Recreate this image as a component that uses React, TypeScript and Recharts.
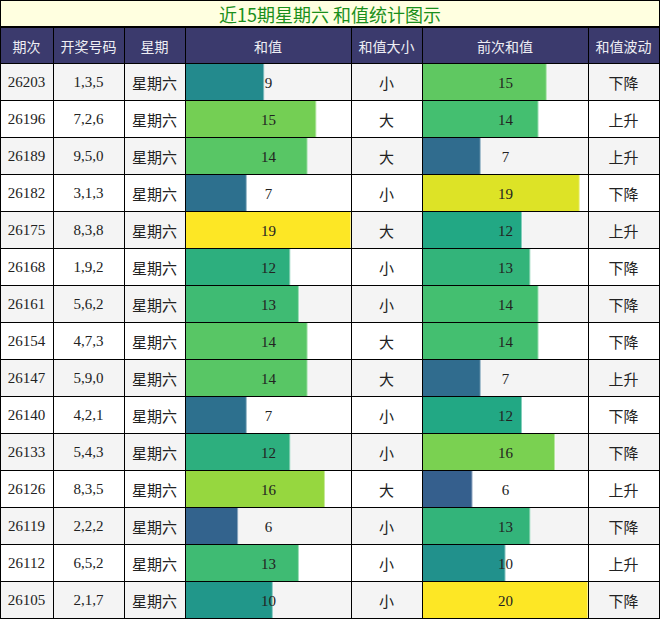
import { Bar, BarChart, Cell, LabelList, XAxis, YAxis } from "recharts";

const title = "近15期星期六 和值统计图示";
const headers = ["期次", "开奖号码", "星期", "和值", "和值大小", "前次和值", "和值波动"];

const periods = ["26203", "26196", "26189", "26182", "26175", "26168", "26161", "26154", "26147", "26140", "26133", "26126", "26119", "26112", "26105"];
const draws = ["1,3,5", "7,2,6", "9,5,0", "3,1,3", "8,3,8", "1,9,2", "5,6,2", "4,7,3", "5,9,0", "4,2,1", "5,4,3", "8,3,5", "2,2,2", "6,5,2", "2,1,7"];
const weekday = "星期六";
const sums = [9, 15, 14, 7, 19, 12, 13, 14, 14, 7, 12, 16, 6, 13, 10];
const sizes = ["小", "大", "大", "小", "大", "小", "小", "大", "大", "小", "小", "大", "小", "小", "小"];
const prevSums = [15, 14, 7, 19, 12, 13, 14, 14, 7, 12, 16, 6, 13, 10, 20];
const trends = ["下降", "上升", "上升", "下降", "上升", "下降", "下降", "下降", "上升", "下降", "下降", "上升", "下降", "上升", "下降"];

// layout
const W = 660;
const TITLE_H = 27;
const HEAD_TOP = 28;
const ROW_TOP = 63;
const ROW_H = 37;
const COLS = [0, 53, 124, 185, 351, 422, 588, 659];
const BAR_W = 165;

const FONT = "'Liberation Serif', 'Noto Sans CJK SC', serif";
const CJK = "'Noto Sans CJK SC', sans-serif";

const VIRIDIS = ["#440154", "#482475", "#414487", "#355f8d", "#2a788e", "#21918c", "#22a884", "#44bf70", "#7ad151", "#bddf26", "#fde725"];

function viridis(t: number) {
	const p = Math.max(0, Math.min(1, t)) * 10;
	const i = Math.min(9, Math.floor(p));
	const f = p - i;
	const a = VIRIDIS[i];
	const b = VIRIDIS[i + 1];
	const ch = (s: string, k: number) => parseInt(s.slice(1 + k * 2, 3 + k * 2), 16);
	const c = [0, 1, 2].map((k) => Math.round(ch(a, k) + (ch(b, k) - ch(a, k)) * f));
	return `rgb(${c[0]},${c[1]},${c[2]})`;
}

const sumData = periods.map((p, i) => ({ period: p, value: sums[i] }));
const prevData = periods.map((p, i) => ({ period: p, value: prevSums[i] }));

const CenterLabel = (props: any) => {
	const { y, height, value } = props;
	return (
		<text x={BAR_W / 2} y={y + height / 2 + 1} textAnchor="middle" dominantBaseline="central" fontSize={15} fontFamily={FONT} fill="#222">
			{value}
		</text>
	);
};

const EdgeBar = (props: any) => {
	const { x, y, width, height, fill } = props;
	return (
		<g>
			<rect x={x} y={y} width={width} height={height} fill={fill} />
			<rect x={x + width - 1} y={y} width={1.5} height={height} fill="#ffffff" opacity={0.45} />
		</g>
	);
};

function SumBars({ data, max, left }: { data: { period: string; value: number }[]; max: number; left: number }) {
	return (
		<div style={{ position: "absolute", left, top: ROW_TOP }}>
			<BarChart layout="vertical" width={BAR_W} height={ROW_H * data.length} data={data} margin={{ top: 0, right: 0, bottom: 0, left: 0 }} barCategoryGap={0}>
				<XAxis type="number" domain={[0, max]} hide />
				<YAxis type="category" dataKey="period" hide />
				<Bar dataKey="value" isAnimationActive={false} shape={EdgeBar}>
					{data.map((d) => (
						<Cell key={d.period} fill={viridis(d.value / max)} />
					))}
					<LabelList dataKey="value" content={CenterLabel} />
				</Bar>
			</BarChart>
		</div>
	);
}

function TextCell({ col, row, text, cjk }: { col: number; row: number; text: string; cjk?: boolean }) {
	return (
		<div
			style={{
				position: "absolute",
				left: COLS[col],
				width: COLS[col + 1] - COLS[col],
				top: ROW_TOP + row * ROW_H + 1,
				height: ROW_H,
				display: "flex",
				alignItems: "center",
				justifyContent: "center",
				fontFamily: cjk ? CJK : FONT,
				fontSize: 15,
				color: "#222",
			}}
		>
			{text}
		</div>
	);
}

export default function App() {
	const maxSum = Math.max(...sums);
	const maxPrev = Math.max(...prevSums);
	const bottom = ROW_TOP + ROW_H * periods.length;
	return (
		<div style={{ position: "absolute", left: 0, top: 0, width: W, height: 619, background: "#fff", overflow: "hidden" }}>
			{/* title */}
			<div style={{ position: "absolute", left: 0, top: 0, width: W, height: TITLE_H, background: "#ffffe0", display: "flex", alignItems: "center", justifyContent: "center", fontFamily: CJK, fontSize: 18, color: "#1a8f1a" }}>
				{title}
			</div>
			{/* header */}
			<div style={{ position: "absolute", left: 0, top: HEAD_TOP, width: W, height: ROW_TOP - HEAD_TOP, background: "#3b3a6d" }} />
			{headers.map((h, i) => (
				<div key={h} style={{ position: "absolute", left: COLS[i], width: COLS[i + 1] - COLS[i], top: HEAD_TOP, height: ROW_TOP - HEAD_TOP, display: "flex", alignItems: "center", justifyContent: "center", fontFamily: CJK, fontSize: 14, color: "#eeeef4" }}>
					{h}
				</div>
			))}
			{/* row backgrounds */}
			{periods.map((p, i) => (
				<div key={p} style={{ position: "absolute", left: 0, top: ROW_TOP + i * ROW_H, width: W, height: ROW_H, background: i % 2 === 0 ? "#f4f4f4" : "#ffffff" }} />
			))}
			<SumBars data={sumData} max={maxSum} left={COLS[3] + 1} />
			<SumBars data={prevData} max={maxPrev} left={COLS[5] + 1} />
			{periods.map((p, i) => (
				<div key={"r" + p}>
					<TextCell col={0} row={i} text={p} />
					<TextCell col={1} row={i} text={draws[i]} />
					<TextCell col={2} row={i} text={weekday} cjk />
					<TextCell col={4} row={i} text={sizes[i]} cjk />
					<TextCell col={6} row={i} text={trends[i]} cjk />
				</div>
			))}
			{/* grid lines */}
			<div style={{ position: "absolute", left: 0, top: 0, width: W, height: 1, background: "#000" }} />
			<div style={{ position: "absolute", left: 0, top: TITLE_H - 1, width: W, height: 2, background: "#000" }} />
			{periods.map((p, i) => (
				<div key={"h" + p} style={{ position: "absolute", left: 0, top: ROW_TOP + i * ROW_H, width: W, height: 1, background: "#000" }} />
			))}
			<div style={{ position: "absolute", left: 0, top: bottom, width: W, height: 1, background: "#000" }} />
			<div style={{ position: "absolute", left: 0, top: 0, width: 1, height: 619, background: "#000" }} />
			<div style={{ position: "absolute", left: W - 1, top: 0, width: 1, height: 619, background: "#000" }} />
			{COLS.slice(1, -1).map((x) => (
				<div key={"v" + x} style={{ position: "absolute", left: x, top: HEAD_TOP, width: 1, height: bottom - HEAD_TOP, background: "#000" }} />
			))}
		</div>
	);
}
